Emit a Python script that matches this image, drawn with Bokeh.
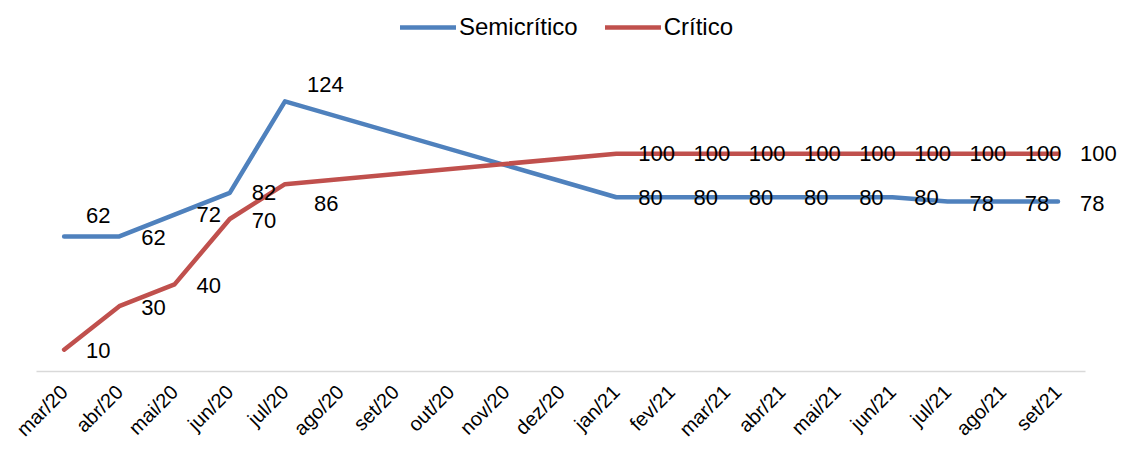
import math
from bokeh.plotting import figure
from bokeh.models import ColumnDataSource, LabelSet, Legend, LegendItem, Range1d, FixedTicker
from bokeh.core.properties import value
from bokeh.embed import file_html
from bokeh.resources import INLINE

months = ["mar/20", "abr/20", "mai/20", "jun/20", "jul/20", "ago/20", "set/20", "out/20",
          "nov/20", "dez/20", "jan/21", "fev/21", "mar/21", "abr/21", "mai/21", "jun/21",
          "jul/21", "ago/21", "set/21"]
semicritico = [62, 62, 72, 82, 124, None, None, None, None, None, 80, 80, 80, 80, 80, 80, 78, 78, 78]
critico = [10, 30, 40, 70, 86, None, None, None, None, None, 100, 100, 100, 100, 100, 100, 100, 100, 100]

# label nudges (screen px; dy + = up)
semi_label_dy = [21, -1, 0, 0, 17, 0, 0, 0, 0, 0, 0, 0, 0, 0, 0, 0, -2, -2, -2]
crit_label_dy = [-1, -1, -1, -1, -19, 0, 0, 0, 0, 0, 0, 0, 0, 0, 0, 0, 0, 0, 0]
semi_label_dx = [22] * 19
crit_label_dx = [22, 22, 22, 22, 29, 22, 22, 22, 22, 22, 22, 22, 22, 22, 22, 22, 22, 22, 22]

BLUE = "#4F81BD"
RED = "#C0504D"
FONT = "Liberation Sans"


def series_source(vals, dx, dy):
    xs, ys, labels, dxs, dys = [], [], [], [], []
    for i, (v, a, d) in enumerate(zip(vals, dx, dy)):
        if v is None:
            continue
        xs.append(i)
        ys.append(v)
        labels.append(str(v))
        dxs.append(a)
        dys.append(d)
    return ColumnDataSource(dict(x=xs, y=ys, label=labels, dx=dxs, dy=dys))


src_semi = series_source(semicritico, semi_label_dx, semi_label_dy)
src_crit = series_source(critico, crit_label_dx, crit_label_dy)

n = len(months)
p = figure(width=1121, height=451, output_backend="svg", toolbar_location=None,
           min_border_left=36, min_border_right=0, min_border_top=0, min_border_bottom=80,
           x_range=Range1d(-0.5, 19.15), y_range=Range1d(0, 170.3))

r_semi = p.line("x", "y", source=src_semi, line_color=BLUE, line_width=4.5,
                line_join="round", line_cap="round")
r_crit = p.line("x", "y", source=src_crit, line_color=RED, line_width=4.5,
                line_join="round", line_cap="round")

for src in (src_semi, src_crit):
    lbl = LabelSet(x="x", y="y", text="label", source=src, x_offset="dx", y_offset="dy",
                   text_align="left", text_baseline="middle", text_font=value(FONT),
                   text_font_size="22px", text_color="black")
    p.add_layout(lbl)

legend = Legend(items=[LegendItem(label="Semicrítico", renderers=[r_semi]),
                       LegendItem(label="Crítico", renderers=[r_crit])],
                orientation="horizontal", location=(364, 330),
                label_text_font=FONT, label_text_font_size="24px", label_text_color="black",
                glyph_width=56, glyph_height=20, label_standoff=3, spacing=27,
                border_line_color=None, background_fill_alpha=0, padding=0, margin=0)
p.add_layout(legend, "center")

p.yaxis.visible = False
p.xgrid.grid_line_color = None
p.ygrid.grid_line_color = None
p.outline_line_color = None

ax = p.xaxis[0]
ax.bounds = (-0.5, n - 0.5)
ax.ticker = FixedTicker(ticks=list(range(n)))
ax.major_label_overrides = {i: m for i, m in enumerate(months)}
ax.axis_line_color = "#D9D9D9"
ax.axis_line_width = 1.5
ax.major_tick_line_color = None
ax.minor_tick_line_color = None
ax.major_label_orientation = math.pi / 4
ax.major_label_text_font = FONT
ax.major_label_text_font_size = "20px"
ax.major_label_text_color = "black"
ax.major_label_standoff = 11

open("out.html", "w").write(file_html(p, INLINE))
